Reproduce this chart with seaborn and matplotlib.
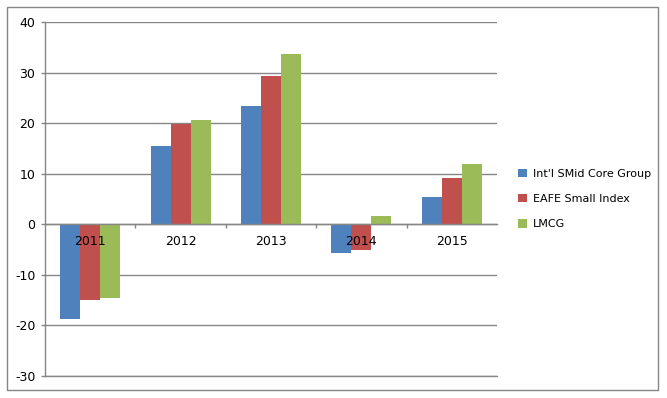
import matplotlib
matplotlib.use("Agg")
import matplotlib.pyplot as plt
import seaborn as sns
import pandas as pd
from matplotlib.patches import Rectangle
from matplotlib.ticker import FixedLocator

years = ["2011", "2012", "2013", "2014", "2015"]
series_names = ["Int'l SMid Core Group", "EAFE Small Index", "LMCG"]
smid = [-18.7, 15.5, 23.4, -5.6, 5.3]
eafe = [-15.0, 19.9, 29.3, -5.1, 9.2]
lmcg = [-14.7, 20.7, 33.8, 1.7, 12.0]
colors = ["#4F81BD", "#C0504D", "#9BBB59"]

rows = []
for name, vals in zip(series_names, [smid, eafe, lmcg]):
    for y, v in zip(years, vals):
        rows.append({"year": y, "value": v, "series": name})
df = pd.DataFrame(rows)

sns.set_theme(style="white")
plt.rcParams["font.family"] = ["DejaVu Sans"]
plt.rcParams["axes.unicode_minus"] = False
plt.rcParams["text.color"] = "black"

fig = plt.figure(figsize=(6.67, 3.98), dpi=100)
W, H = 667, 398
ax = fig.add_axes([45 / W, 1 - 375.7 / H, (497 - 45) / W, (375.7 - 22.3) / H])

sns.barplot(data=df, x="year", y="value", hue="series", palette=colors,
            width=0.664, gap=0, saturation=1, ax=ax, legend=True,
            linewidth=0, edgecolor="none")

ax.set_xlim(-0.5, 4.5)
ax.set_ylim(-30, 40)
ax.set_yticks(range(-30, 41, 10))
gray = "#868686"
ax.yaxis.grid(True, color=gray, linewidth=1)
ax.set_axisbelow(True)
ax.xaxis.set_zorder(3)
ax.axhline(-30, color=gray, linewidth=1, clip_on=False, zorder=0.6)
ax.set_xlabel("")
ax.set_ylabel("")

for s in ["top", "right"]:
    ax.spines[s].set_visible(False)
ax.spines["left"].set_color(gray)
ax.spines["left"].set_linewidth(1)
ax.spines["bottom"].set_position(("data", 0))
ax.spines["bottom"].set_color(gray)
ax.spines["bottom"].set_linewidth(1)
ax.spines["bottom"].set_zorder(2.5)

ax.tick_params(axis="y", which="major", left=True, length=3, width=1,
               color=gray, direction="out", labelsize=9, labelcolor="black", pad=4)
ax.tick_params(axis="x", which="major", bottom=True, length=0, labelsize=9,
               labelcolor="black", pad=8)
ax.xaxis.set_minor_locator(FixedLocator([0.5, 1.5, 2.5, 3.5]))
ax.tick_params(axis="x", which="minor", bottom=True, length=3, width=1,
               color=gray, direction="out")

leg = ax.get_legend()
handles = leg.legend_handles
labels = [t.get_text() for t in leg.get_texts()]
leg.remove()
fig.legend(handles, labels, loc="center left",
           bbox_to_anchor=(514 / W, 1 - 199 / H), frameon=False,
           fontsize=8, handlelength=0.8, handleheight=0.8,
           handletextpad=0.5, labelspacing=1.35, borderaxespad=0,
           labelcolor="black")

fig.patches.append(Rectangle((7 / W, 1 - 390 / H), (658 - 7) / W, (390 - 7) / H,
                             transform=fig.transFigure, fill=False,
                             edgecolor=gray, linewidth=1))

fig.savefig("out.png", dpi=100)
